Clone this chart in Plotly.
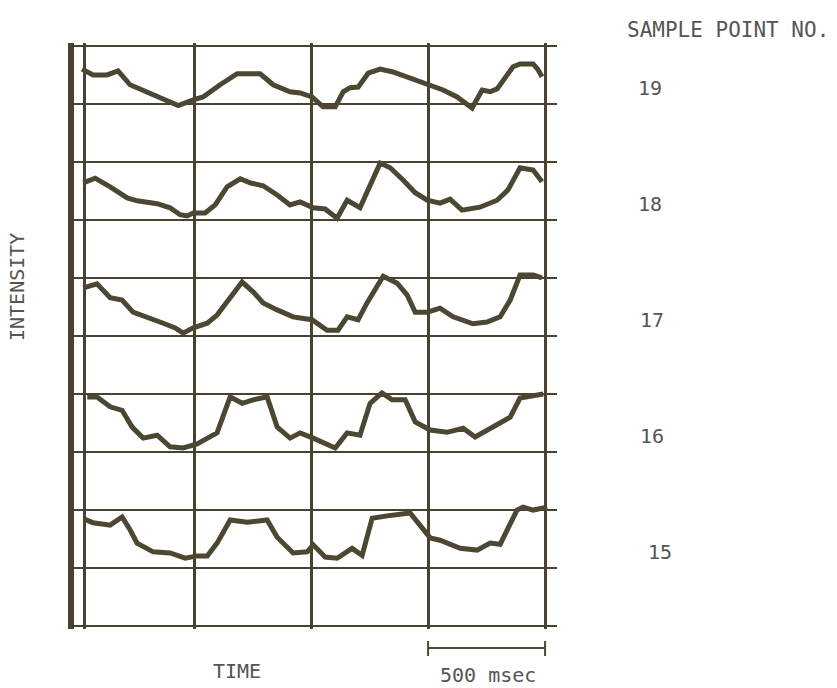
import plotly.graph_objects as go

# ---------------- data ----------------
sample_points = ["19", "18", "17", "16", "15"]
row_offsets = [9, 7, 5, 3, 1]          # baseline grid row of each record

time_19 = [21, 68, 128, 175, 226, 299, 355, 432, 496, 538, 611, 684, 782, 838, 910, 953, 1004,
           1051, 1103, 1137, 1167, 1201, 1244, 1295, 1350, 1423, 1487, 1564, 1624, 1688, 1731,
           1765, 1795, 1863, 1893, 1949, 1970, 1987]
intensity_19 = [0.60, 0.50, 0.50, 0.57, 0.33, 0.21, 0.10, -0.03, 0.07, 0.12, 0.33, 0.52, 0.52,
                0.33, 0.21, 0.19, 0.12, -0.05, -0.05, 0.21, 0.28, 0.29, 0.53, 0.60, 0.55, 0.45,
                0.34, 0.24, 0.12, -0.07, 0.24, 0.21, 0.26, 0.64, 0.69, 0.69, 0.59, 0.47]

time_18 = [26, 77, 141, 214, 256, 342, 397, 440, 470, 496, 547, 590, 641, 697, 739, 795, 855,
           910, 953, 1009, 1060, 1111, 1154, 1209, 1295, 1338, 1393, 1445, 1496, 1551, 1594,
           1645, 1722, 1795, 1842, 1893, 1949, 1987]
intensity_18 = [0.64, 0.72, 0.57, 0.38, 0.33, 0.28, 0.21, 0.09, 0.07, 0.12, 0.12, 0.26, 0.57,
                0.71, 0.64, 0.59, 0.43, 0.26, 0.31, 0.21, 0.19, 0.03, 0.34, 0.21, 0.98, 0.90,
                0.69, 0.47, 0.34, 0.29, 0.36, 0.17, 0.22, 0.34, 0.52, 0.90, 0.86, 0.66]

time_17 = [26, 85, 141, 192, 239, 299, 368, 419, 453, 496, 556, 598, 654, 705, 752, 795, 855,
           923, 953, 1004, 1068, 1115, 1154, 1201, 1239, 1308, 1368, 1410, 1445, 1496, 1551,
           1607, 1692, 1752, 1808, 1851, 1893, 1949, 1987]
intensity_17 = [0.83, 0.90, 0.66, 0.62, 0.41, 0.33, 0.22, 0.14, 0.05, 0.14, 0.22, 0.36, 0.67,
                0.93, 0.76, 0.57, 0.45, 0.33, 0.31, 0.28, 0.10, 0.10, 0.33, 0.28, 0.57, 1.03,
                0.91, 0.71, 0.41, 0.41, 0.48, 0.33, 0.21, 0.24, 0.33, 0.62, 1.05, 1.05, 1.00]

time_16 = [43, 85, 141, 192, 235, 282, 342, 397, 453, 513, 598, 654, 705, 752, 812, 855, 910,
           953, 1009, 1103, 1154, 1209, 1252, 1303, 1346, 1402, 1445, 1509, 1581, 1650, 1701,
           1778, 1851, 1893, 1949, 1992]
intensity_16 = [0.95, 0.95, 0.78, 0.72, 0.43, 0.24, 0.29, 0.09, 0.07, 0.14, 0.33, 0.95, 0.84,
                0.90, 0.95, 0.43, 0.24, 0.33, 0.24, 0.07, 0.33, 0.29, 0.84, 1.02, 0.90, 0.90,
                0.52, 0.38, 0.34, 0.41, 0.26, 0.43, 0.60, 0.93, 0.98, 1.00]

time_15 = [34, 68, 141, 192, 226, 256, 325, 397, 462, 513, 556, 598, 654, 727, 812, 855, 923,
           983, 1009, 1060, 1111, 1175, 1218, 1261, 1325, 1380, 1423, 1509, 1551, 1637, 1710,
           1765, 1808, 1880, 1906, 1949, 2009]
intensity_15 = [0.84, 0.78, 0.74, 0.88, 0.66, 0.43, 0.28, 0.26, 0.17, 0.21, 0.21, 0.43, 0.83,
                0.79, 0.83, 0.53, 0.26, 0.28, 0.40, 0.19, 0.17, 0.34, 0.22, 0.86, 0.90, 0.93,
                0.95, 0.52, 0.48, 0.34, 0.31, 0.43, 0.41, 1.00, 1.05, 1.00, 1.05]

times = [time_19, time_18, time_17, time_16, time_15]
intensities = [intensity_19, intensity_18, intensity_17, intensity_16, intensity_15]

time_grid_ms = [30, 500, 1000, 1500, 2000]
intensity_rows = list(range(0, 11))
scale_bar_ms = [1500, 2000]

# ---------------- style / layout ----------------
W, H = 837, 688
L, R, T, B = 74, 280, 43, 59
INK = "#4b4733"
GRID = "#47432f"
TEXT = "#555555"
FONT = "DejaVu Sans Mono"


def paper_x(px):
    return (px - L) / (W - L - R)


def paper_y(py):
    return (H - B - py) / (H - T - B)


fig = go.Figure()
for name, off, t, v in zip(sample_points, row_offsets, times, intensities):
    fig.add_trace(go.Scatter(
        x=t, y=[off + val for val in v], mode="lines", name=name,
        line=dict(color=INK, width=5), showlegend=False, hoverinfo="skip"))

annotations = [
    dict(text="SAMPLE POINT NO.", x=paper_x(728), y=paper_y(30), font_size=21),
    dict(text="INTENSITY", x=paper_x(17), y=paper_y(287), textangle=-90),
    dict(text="TIME", x=paper_x(237), y=paper_y(671)),
    dict(text="500 msec", x=paper_x(488), y=paper_y(675)),
]
label_px_x = [650, 650, 652, 652, 660]
for name, off, lx in zip(sample_points, row_offsets, label_px_x):
    annotations.append(dict(text=name, x=paper_x(lx), y=off + 0.27, yref="y"))

ann = []
for a in annotations:
    d = dict(xref="paper", yref="paper", showarrow=False,
             font=dict(family=FONT, size=20, color=TEXT), xanchor="center", yanchor="middle")
    fs = a.pop("font_size", None)
    d.update(a)
    if fs:
        d["font"] = dict(family=FONT, size=fs, color=TEXT)
    ann.append(d)

shapes = [
    dict(type="line", xref="x", yref="paper", x0=scale_bar_ms[0], x1=scale_bar_ms[1],
         y0=paper_y(648), y1=paper_y(648), line=dict(color=INK, width=2)),
    dict(type="line", xref="x", yref="paper", x0=scale_bar_ms[0], x1=scale_bar_ms[0],
         y0=paper_y(641), y1=paper_y(656), line=dict(color=INK, width=2)),
    dict(type="line", xref="x", yref="paper", x0=scale_bar_ms[1], x1=scale_bar_ms[1],
         y0=paper_y(641), y1=paper_y(656), line=dict(color=INK, width=2)),
]

fig.update_layout(
    width=W, height=H,
    margin=dict(l=L, r=R, t=T, b=B, pad=0),
    paper_bgcolor="white", plot_bgcolor="white",
    annotations=ann, shapes=shapes,
    xaxis=dict(range=[-13.5, 2051], tickvals=time_grid_ms, showgrid=True,
               gridcolor=GRID, gridwidth=2.6, showticklabels=False, ticks="",
               zeroline=False, showline=False, fixedrange=True),
    yaxis=dict(range=[-0.05, 10.05], tickvals=intensity_rows, showgrid=True,
               gridcolor=GRID, gridwidth=2.2, showticklabels=False, ticks="",
               zeroline=False, showline=True, linecolor=GRID, linewidth=6,
               fixedrange=True),
)

fig.write_html("out.html",
               config={"displayModeBar": False},
               post_script="document.body.style.margin='0';document.body.style.overflow='hidden';")
